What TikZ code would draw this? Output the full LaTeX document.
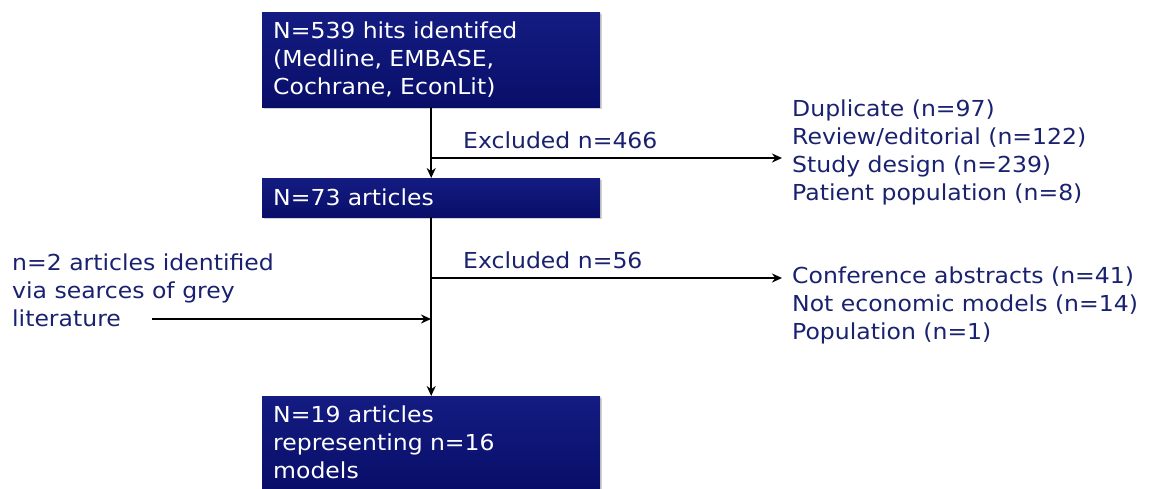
\documentclass[tikz,border=0pt]{standalone}
\usepackage{fontspec}
\setmainfont{DejaVu Sans}[FakeStretch=1.07]
\usetikzlibrary{arrows.meta,positioning,shadows}
\definecolor{boxnavy}{RGB}{8,14,104}
\definecolor{boxnavytop}{RGB}{20,28,130}
\definecolor{textnavy}{RGB}{26,34,112}

\begin{document}
\begin{tikzpicture}[
    x = 1pt, y = -1pt,
    every node/.style = {font=\fontsize{22}{27.7}\selectfont},
    stage/.style = {rectangle, anchor=north west, top color=boxnavytop, bottom color=boxnavy, text=white, text width=316pt, inner xsep=11pt, inner ysep=10pt, align=left, drop shadow={shadow xshift=2pt, shadow yshift=-2pt, opacity=0.35}},
    note/.style = {text=textnavy, align=left, inner sep=0pt},
    arrow/.style = {-{Stealth[length=10pt,width=9pt]}, line width=2.3pt}
]
    \useasboundingbox (0,0) rectangle (1151,488);

    % Stages
    \node[stage] (hits) at (262,12) {N=539 hits identifed\\(Medline, EMBASE,\\Cochrane, EconLit)};
    \node[stage, minimum height=39pt] (arts73) at (262,178) {N=73 articles};
    \node[stage] (arts19) at (262,396) {N=19 articles\\representing n=16\\models};

    % Exclusions
    \node[note, anchor=north west] (why1) at (792,100) {Duplicate (n=97)\\Review/editorial (n=122)\\Study design (n=239)\\Patient population (n=8)};
    \node[note, anchor=north west] (why2) at (792,267) {Conference abstracts (n=41)\\Not economic models (n=14)\\Population (n=1)};
    \node[note, anchor=north west] (grey) at (12,254) {n=2 articles identified\\via searces of grey\\literature};

    % Branch points
    \coordinate (split1) at (431,158);
    \coordinate (split2) at (431,278);
    \coordinate (greystart) at (152,319);
    \coordinate (greyend) at (431,319);

    % Arrows
    \draw[arrow] (hits) -- (arts73);
    \draw[arrow] (arts73) -- (arts19);
    \draw[arrow, shorten >=10pt] (split1) -- (split1 -| why1.west);
    \draw[arrow, shorten >=10pt] (split2) -- (split2 -| why2.west);
    \draw[arrow] (greystart) -- (greyend);

    % Labels
    \node[note, anchor=base west] (excl1) at (463,148) {Excluded n=466};
    \node[note, anchor=base west] (excl2) at (463,268) {Excluded n=56};

\end{tikzpicture}
\end{document}
